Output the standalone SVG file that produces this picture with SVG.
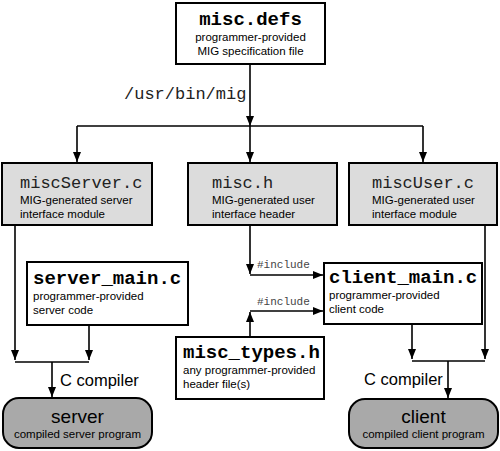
<svg xmlns="http://www.w3.org/2000/svg" width="500" height="451" viewBox="0 0 500 451">
<defs>
<marker id="ah" markerWidth="10" markerHeight="8" refX="10" refY="4" orient="auto" markerUnits="userSpaceOnUse">
<path d="M0,0 L10,4 L0,8 Z" fill="#000"/>
</marker>
<style>
.box{fill:#fff;stroke:#000;stroke-width:2}
.gbox{fill:#dcdcdc;stroke:#000;stroke-width:2}
.rbox{fill:#a9a9a9;stroke:#000;stroke-width:2}
.ln{fill:none;stroke:#000;stroke-width:1.6}
.arr{fill:none;stroke:#000;stroke-width:1.6;marker-end:url(#ah)}
.big{font-family:"Liberation Mono",monospace;font-weight:bold;font-size:19px;fill:#000}
.mono{font-family:"Liberation Mono",monospace;font-size:17px;fill:#222}
.sm{font-family:"Liberation Sans",Arial,sans-serif;font-size:11.5px;fill:#000}
.inc{font-family:"Liberation Mono",monospace;font-size:11px;fill:#444}
.cc{font-family:"Liberation Sans",Arial,sans-serif;font-size:16.5px;fill:#000}
.prog{font-family:"Liberation Sans",Arial,sans-serif;font-size:19px;fill:#000}
</style>
</defs>
<rect width="500" height="451" fill="#fff"/>

<g id="connectors">
<path class="arr" d="M250,64 V126"/>
<path class="ln" d="M77,126 H423"/>
<path class="arr" d="M77,126 V162"/>
<path class="arr" d="M250,126 V162"/>
<path class="arr" d="M423,126 V162"/>
<text class="mono" x="124" y="99">/usr/bin/mig</text>
<path class="arr" d="M250,225 V274"/>
<path class="arr" d="M250,275 H323"/>
<text class="inc" x="257" y="268">#include</text>
<path class="arr" d="M250,337 V312"/>
<path class="arr" d="M250,311 H323"/>
<text class="inc" x="257" y="305">#include</text>
<path class="arr" d="M15,225 V360"/>
<path class="arr" d="M89,325 V360"/>
<path class="ln" d="M15,362 H89"/>
<path class="arr" d="M52,362 V397"/>
<text class="cc" x="60" y="386">C compiler</text>
<path class="arr" d="M412,324 V359"/>
<path class="arr" d="M485,225 V359"/>
<path class="ln" d="M412,361 H485"/>
<path class="arr" d="M448,361 V398"/>
<text class="cc" x="364" y="385">C compiler</text>
</g>

<g id="misc-defs">
<rect class="box" x="176" y="3" width="149" height="61"/>
<text class="big" x="250.5" y="25" text-anchor="middle">misc.defs</text>
<text class="sm" x="250.5" y="41" text-anchor="middle">programmer-provided</text>
<text class="sm" x="250.5" y="55" text-anchor="middle">MIG specification file</text>
</g>

<g id="miscServer">
<rect class="gbox" x="2" y="163" width="150" height="62"/>
<text class="mono" x="20" y="188">miscServer.c</text>
<text class="sm" x="20" y="204">MIG-generated server</text>
<text class="sm" x="20" y="218">interface module</text>
</g>

<g id="misc-h">
<rect class="gbox" x="188" y="163" width="149" height="62"/>
<text class="mono" x="212" y="188">misc.h</text>
<text class="sm" x="212" y="204">MIG-generated user</text>
<text class="sm" x="212" y="218">interface header</text>
</g>

<g id="miscUser">
<rect class="gbox" x="349" y="163" width="148" height="62"/>
<text class="mono" x="372" y="188">miscUser.c</text>
<text class="sm" x="372" y="204">MIG-generated user</text>
<text class="sm" x="372" y="218">interface module</text>
</g>

<g id="server-main">
<rect class="box" x="27" y="262" width="161" height="63"/>
<text class="big" x="33" y="284">server_main.c</text>
<text class="sm" x="33" y="300">programmer-provided</text>
<text class="sm" x="33" y="314">server code</text>
</g>

<g id="client-main">
<rect class="box" x="324" y="263" width="158" height="61"/>
<text class="big" x="329" y="283">client_main.c</text>
<text class="sm" x="329" y="299">programmer-provided</text>
<text class="sm" x="329" y="313">client code</text>
</g>

<g id="misc-types">
<rect class="box" x="176" y="337" width="148" height="62"/>
<text class="big" x="183" y="358">misc_types.h</text>
<text class="sm" x="183" y="374">any programmer-provided</text>
<text class="sm" x="183" y="388">header file(s)</text>
</g>

<g id="server">
<rect class="rbox" x="3" y="398" width="149" height="50" rx="16"/>
<text class="prog" x="77.5" y="423" text-anchor="middle">server</text>
<text class="sm" x="77.5" y="438" text-anchor="middle">compiled server program</text>
</g>

<g id="client">
<rect class="rbox" x="349" y="399" width="149" height="49" rx="16"/>
<text class="prog" x="423.5" y="423" text-anchor="middle">client</text>
<text class="sm" x="423.5" y="438" text-anchor="middle">compiled client program</text>
</g>
</svg>
